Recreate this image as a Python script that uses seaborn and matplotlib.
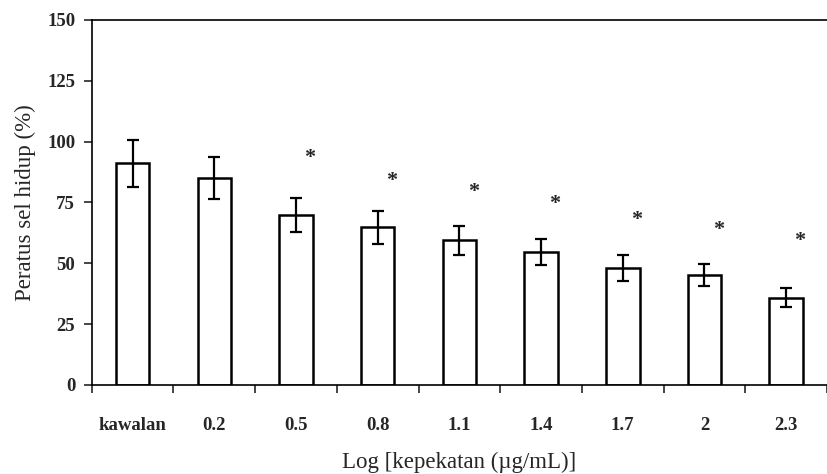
import numpy as np
import matplotlib
matplotlib.use("Agg")
import matplotlib.pyplot as plt
import matplotlib.transforms as mtransforms
import seaborn as sns

labels = ["kawalan", "0.2", "0.5", "0.8", "1.1", "1.4", "1.7", "2", "2.3"]
viability = [91, 85, 70, 64.7, 59.5, 54.7, 48, 45, 35.9]
errors = [9.5, 8.5, 7, 6.7, 6, 5.4, 5.3, 4.5, 3.8]
star_labels = ["0.5", "0.8", "1.1", "1.4", "1.7", "2", "2.3"]
star_y = [95, 85.6, 80.8, 76, 69.6, 65.5, 61]

sns.set_style("ticks")
plt.rcParams["font.family"] = ["Liberation Serif", "DejaVu Serif"]

fig = plt.figure(figsize=(8.27, 4.74), dpi=100)
ax = fig.add_axes([0.111, 0.188, 0.889, 0.770])

sns.barplot(x=labels, y=viability, order=labels, color="white", edgecolor="black",
            linewidth=1.8, width=0.41, ax=ax)
ax.errorbar(np.arange(len(labels)), viability, yerr=errors, fmt="none",
            ecolor="black", elinewidth=1.6, capsize=4, capthick=1.6)

star_tr = mtransforms.offset_copy(ax.transData, fig=fig, y=-3, units="points")
for lab, y in zip(star_labels, star_y):
    ax.text(labels.index(lab) + 0.17, y, "*", ha="center", va="center",
            fontsize=16, fontweight="bold", transform=star_tr)

ax.set_xlim(-0.5, 8.355)
ax.set_ylim(0, 150)
ax.set_yticks([0, 25, 50, 75, 100, 125, 150])
ax.set_xticks(np.arange(len(labels)))
ax.set_xticklabels(labels)
ax.set_xticks(np.arange(len(labels) + 1) - 0.5, minor=True)
ax.tick_params(axis="x", which="major", length=0, pad=23, labelsize=13.5)
ax.tick_params(axis="x", which="minor", length=6, width=1.2, direction="out")
ax.tick_params(axis="y", length=6, width=1.2, pad=6, labelsize=13.5)
for t in ax.get_xticklabels() + ax.get_yticklabels():
    t.set_fontweight("bold")

for s in ["left", "bottom", "top"]:
    ax.spines[s].set_linewidth(1.2)
    ax.spines[s].set_color("black")
ax.spines["right"].set_visible(False)

ax.set_ylabel("Peratus sel hidup (%)", fontsize=16.5, labelpad=8)
ax.set_xlabel("Log [kepekatan (µg/mL)]", fontsize=16.5, labelpad=13)

fig.savefig("out.png", dpi=100)
